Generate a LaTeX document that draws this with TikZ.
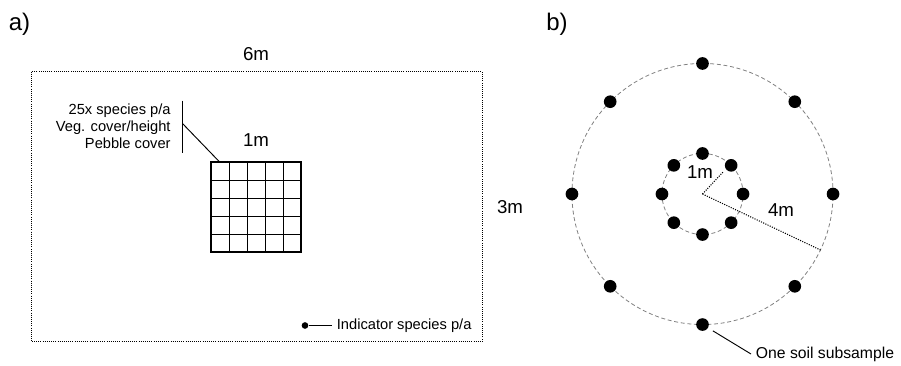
\documentclass[tikz,border=0pt]{standalone}
\usepackage{fontspec}
\setmainfont{Liberation Sans}
\usetikzlibrary{positioning, calc}
\tikzset{
	sample/.style={circle, fill=black, inner sep=0pt, minimum size=9.5pt}
}
\tikzset{
	smalltext/.style={font=\fontsize{11}{12.7}\selectfont},
	sizetext/.style={font=\fontsize{14}{16}\selectfont},
	paneltext/.style={font=\fontsize{18}{20}\selectfont}
}

\begin{document}
\begin{tikzpicture}[x=0.75pt, y=-0.75pt, line width=0.7pt]
      \useasboundingbox (0,0) rectangle (901,365);
      % panel a: plot
      \node[paneltext] (pa) at (19.5,24) {a)};
      \draw[densely dotted, line width=0.6pt] (31,71.5) rectangle (482,341.5);
      \node[sizetext] (six) at (256,54) {6m};
      \node[sizetext] (three) at (510,207) {3m};
      % quadrat 5x5
      \node[draw, line width=0.9pt, minimum size=67.5pt, inner sep=0pt] (quad) at (256,207) {};
      \foreach \i in {1,...,4} {
        \draw (211+18*\i,162) -- (211+18*\i,252);
        \draw (211,162+18*\i) -- (301,162+18*\i);
      }
      \node[sizetext] (one) at (256,140) {1m};
      % quadrat records
      \node[smalltext, align=right, anchor=east] (quadinfo) at (175.5,126) {25x species p/a\\Veg. cover/height\\Pebble cover};
      \draw (182.5,100.5) -- (182.5,152.5);
      \coordinate (bar) at (182.5,123.5);
      \draw (bar) -- ([xshift=6.5pt]quad.north west);
      % indicator species
      \node[circle, fill, inner sep=0pt, minimum size=5pt] (ind) at (305,325.5) {};
      \node[smalltext, anchor=west] (indtext) at (332,325.5) {Indicator species p/a};
      \draw (ind) -- (indtext);

      % panel b: soil circles
      \node[paneltext] (pb) at (557,24) {b)};
      \coordinate (c) at (702.5,194);
      \draw[gray, densely dashed, line width=0.6pt] (c) circle (97.9pt);
      \draw[gray, densely dashed, line width=0.6pt] (c) circle (30.4pt);
      \foreach \a in {0,45,...,315} {
        \node[sample] (out\a) at ($(c)+(\a:97.9pt)$) {};
        \node[sample] (in\a) at ($(c)+(\a:30.4pt)$) {};
      }
      % radii
      \coordinate (r1) at ($(c)+(47:22.5pt)$);
      \coordinate (r4) at ($(c)+(-25.4:98pt)$);
      \draw[densely dotted, line width=0.8pt] (c) -- (r1);
      \draw[densely dotted, line width=0.8pt] (c) -- (r4);
      \node[sizetext] (onem) at (700,172) {1m};
      \node[sizetext] (fourm) at (781,210) {4m};
      % subsample label
      \node[font=\fontsize{11.8}{14}\selectfont, anchor=west] (soil) at (751,354) {One soil subsample};
      \draw[shorten <=4pt] (out270) -- (soil.west);
    \end{tikzpicture}
\end{document}
